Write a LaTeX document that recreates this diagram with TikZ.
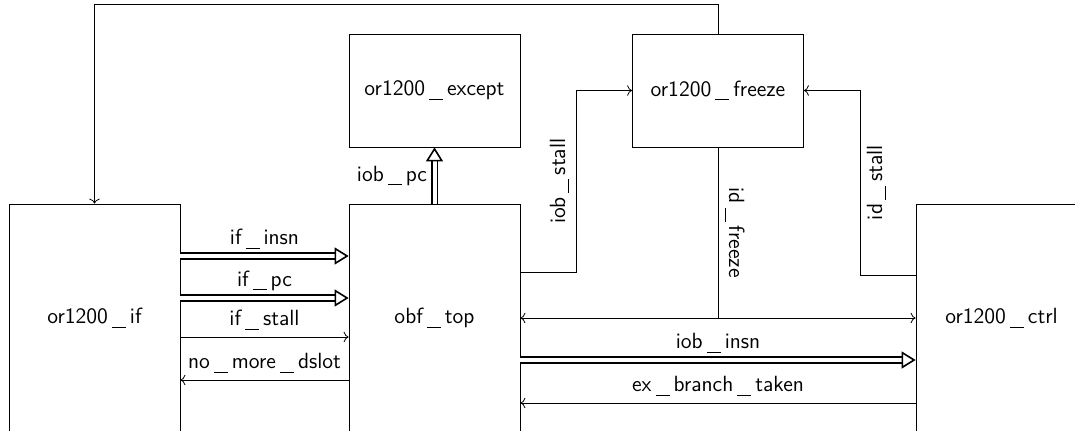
\documentclass[tikz,border=0pt]{standalone}
\usetikzlibrary{shapes, arrows.meta, positioning, calc}
\newcommand{\usc}{\kern2pt\rule[-2pt]{7pt}{0.5pt}\kern2pt}

\begin{document}
\begin{tikzpicture}[x=25pt, y=25pt, every node/.style={font=\sffamily\fontsize{11}{13}\selectfont}]
    \tikzstyle{block} = [draw, rectangle, minimum width=85.5pt, minimum height=114pt, inner sep=0pt]
    \tikzstyle{unit} = [draw, rectangle, minimum width=85.5pt, minimum height=56.5pt, inner sep=0pt]
    \tikzstyle{bus} = [double, thick, double distance=2pt, -{Triangle[open, length=7pt, width=8.5pt]}]

    \useasboundingbox (0,0) rectangle (21.5,8.6);
    \clip (0,0) rectangle (21.5,8.6);

    \node[block] (ifu) at (1.89, 2.24) {or1200\usc if};
    \node[block] (obf) at (8.69, 2.24) {obf\usc top};
    \node[block] (ctrl) at (20.03, 2.24) {or1200\usc ctrl};
    \node[unit] (except) at (8.69, 6.79) {or1200\usc except};
    \node[unit] (freeze) at (14.36, 6.79) {or1200\usc freeze};

    % if -> obf
    \draw[bus] ([yshift=31pt]ifu.east) -- node[midway, above] {if\usc insn} ([yshift=31pt]obf.west);
    \draw[bus] ([yshift=10pt]ifu.east) -- node[midway, above] {if\usc pc} ([yshift=10pt]obf.west);
    \draw[->] ([yshift=-9.5pt]ifu.east) -- node[midway, above] {if\usc stall} ([yshift=-9.5pt]obf.west);
    \draw[<-] ([yshift=-31pt]ifu.east) -- node[midway, above] {no\usc more\usc dslot} ([yshift=-31pt]obf.west);

    % obf -> except / freeze
    \draw[bus] (obf.north) -- node[midway, left] {iob\usc pc} (except.south);
    \draw[->] ([yshift=23pt]obf.east) -| node[pos=0.75, above, rotate=90] {iob\usc stall} ([xshift=-28pt]freeze.west) -- (freeze.west);

    % freeze
    \draw (freeze.south) -- node[midway, above, rotate=-90] {id\usc freeze} (freeze.south |- obf.east);
    \draw[<->] (obf.east) -- (ctrl.west);
    \draw[->] ([yshift=21.5pt]ctrl.west) -| node[pos=0.75, below, rotate=90] {id\usc stall} ([xshift=28pt]freeze.east) -- (freeze.east);
    \draw[->] (freeze.north) -- ++(0,0.58) -| (ifu.north);

    % obf <-> ctrl
    \draw[bus] ([yshift=-21pt]obf.east) -- node[midway, above] {iob\usc insn} ([yshift=-21pt]ctrl.west);
    \draw[<-] ([yshift=-42.5pt]obf.east) -- node[midway, above] {ex\usc branch\usc taken} ([yshift=-42.5pt]ctrl.west);
\end{tikzpicture}
\end{document}
